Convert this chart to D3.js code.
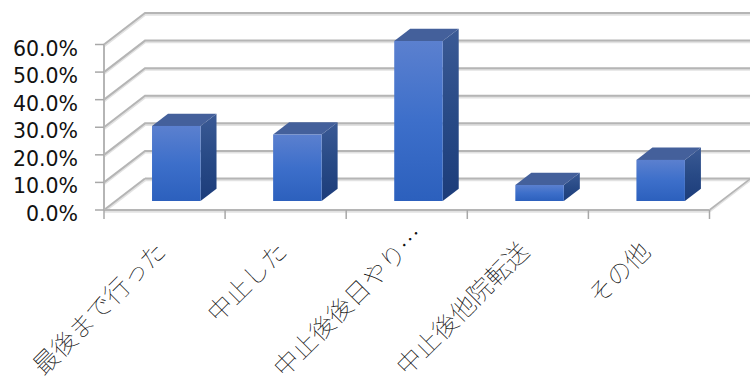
<!DOCTYPE html>
<html lang="ja">
<head>
<meta charset="utf-8">
<script src="https://cdn.jsdelivr.net/npm/d3@7"></script>
<style>
html,body{margin:0;padding:0;background:#fff;}
svg{display:block;}
</style>
</head>
<body>
<svg id="chart" width="750" height="378"></svg>
<script>
// Chart data
const categories = ["最後まで行った", "中止した", "中止後後日やり…", "中止後他院転送", "その他"];
const values = [27.2, 24.1, 58.0, 5.8, 14.9];
const yTicks = [0, 10, 20, 30, 40, 50, 60];

const svg = d3.select("#chart");
const x = d3.scaleBand().domain(categories).range([104, 709.5]).padding(0);
const y = d3.scaleLinear().domain([0, 60]).range([210, 44.5]);

// Oblique projection: depth runs up and to the right
const depthX = 41, depthY = -31.5;
const barDepth = 0.286, sideDepth = 0.39;
const barW = 48.5;

const defs = svg.append("defs");
function grad(id, stops) {
  const g = defs.append("linearGradient").attr("id", id)
    .attr("x1", 0).attr("y1", 0).attr("x2", 0).attr("y2", 1);
  stops.forEach(([o, c]) => g.append("stop").attr("offset", o).attr("stop-color", c));
}
grad("front", [[0, "#5b80cf"], [0.5, "#3d6fca"], [1, "#2c60bd"]]);
grad("side", [[0, "#3b5a95"], [0.5, "#284a86"], [1, "#1c3c7a"]]);

const gridColor = "#b5b5b5";
const shadowColor = "#e2e2e2";
const grid = svg.append("g").attr("fill", "none");

// Soft line under each wall and floor stroke
function wallLine(pts, w) {
  const line = d3.line();
  grid.append("path").attr("d", line(pts.map(p => [p[0], p[1] + 1.2])))
    .attr("stroke", shadowColor).attr("stroke-width", w + 1);
  grid.append("path").attr("d", line(pts))
    .attr("stroke", gridColor).attr("stroke-width", w);
}

const x0 = x.range()[0], x1 = x.range()[1];
yTicks.forEach(t => {
  if (t === 0) return;
  wallLine([[x0, y(t)], [x0 + depthX, y(t) + depthY], [750, y(t) + depthY]], 2);
});
// Floor outline and front axis
wallLine([[x0, y(0)], [x0 + depthX, y(0) + depthY]], 2);
wallLine([[x0 + depthX, y(0) + depthY], [750, y(0) + depthY]], 2);
wallLine([[x1, y(0)], [x1 + depthX, y(0) + depthY]], 1.6);
wallLine([[x0, y(0)], [x1, y(0)]], 2.2);
grid.append("path").attr("d", d3.line()([[x0, y(60)], [x0, y(0)]]))
  .attr("stroke", gridColor).attr("stroke-width", 2);

// Tick marks
const ticks = svg.append("g").attr("stroke", "#a8a8a8").attr("stroke-width", 1.5);
yTicks.forEach(t => ticks.append("line")
  .attr("x1", x0 - 9).attr("x2", x0).attr("y1", y(t)).attr("y2", y(t)));
const tickXs = categories.map(c => x(c)).concat([x1]);
tickXs.forEach(px => ticks.append("line")
  .attr("x1", px).attr("x2", px).attr("y1", y(0)).attr("y2", y(0) + 9));

// Value axis labels
svg.append("g").selectAll("text").data(yTicks).join("text")
  .attr("x", 78).attr("y", d => y(d) + 11)
  .attr("text-anchor", "end")
  .attr("font-family", "'DejaVu Sans', sans-serif")
  .attr("font-size", 20.5)
  .attr("fill", "#111")
  .text(d => d.toFixed(1) + "%");

// Bars: front, top and side faces
const offX = depthX * barDepth, offY = depthY * barDepth;
const sx = depthX * sideDepth, sy = depthY * sideDepth;
const bars = svg.append("g").selectAll("g")
  .data(categories.map((c, i) => ({ c, v: values[i] })))
  .join("g");

bars.each(function (d) {
  const g = d3.select(this);
  const left = x(d.c) + x.bandwidth() / 2 - barW / 2 + offX;
  const right = left + barW;
  const bottom = y(0) + offY;
  const top = y(d.v) + offY;
  const poly = pts => pts.map(p => p.join(",")).join(" ");
  g.append("polygon").attr("fill", "url(#side)")
    .attr("points", poly([[right, top], [right + sx, top + sy], [right + sx, bottom + sy], [right, bottom]]));
  g.append("polygon").attr("fill", "#44609b")
    .attr("points", poly([[left, top], [left + sx, top + sy], [right + sx, top + sy], [right, top]]));
  g.append("rect").attr("fill", "url(#front)")
    .attr("x", left).attr("y", top).attr("width", barW).attr("height", bottom - top);
});

// Slanted category labels, ending just below the axis; a truncated label runs
// one dot-leader further along its slant
const labelSize = 25;
const leaderShift = 16;
svg.append("g").selectAll("text").data(categories).join("text")
  .attr("transform", d => {
    const s = d.endsWith("…") ? leaderShift : 0;
    return `translate(${x(d) + x.bandwidth() / 2 + 3 + s},${253 - s}) rotate(-45)`;
  })
  .attr("text-anchor", "end")
  .attr("font-family", "'Noto Sans CJK JP', sans-serif")
  .attr("font-weight", 100)
  .attr("font-size", labelSize)
  .attr("fill", "#111")
  .style("text-rendering", "geometricPrecision")
  .text(d => d);
</script>
</body>
</html>
